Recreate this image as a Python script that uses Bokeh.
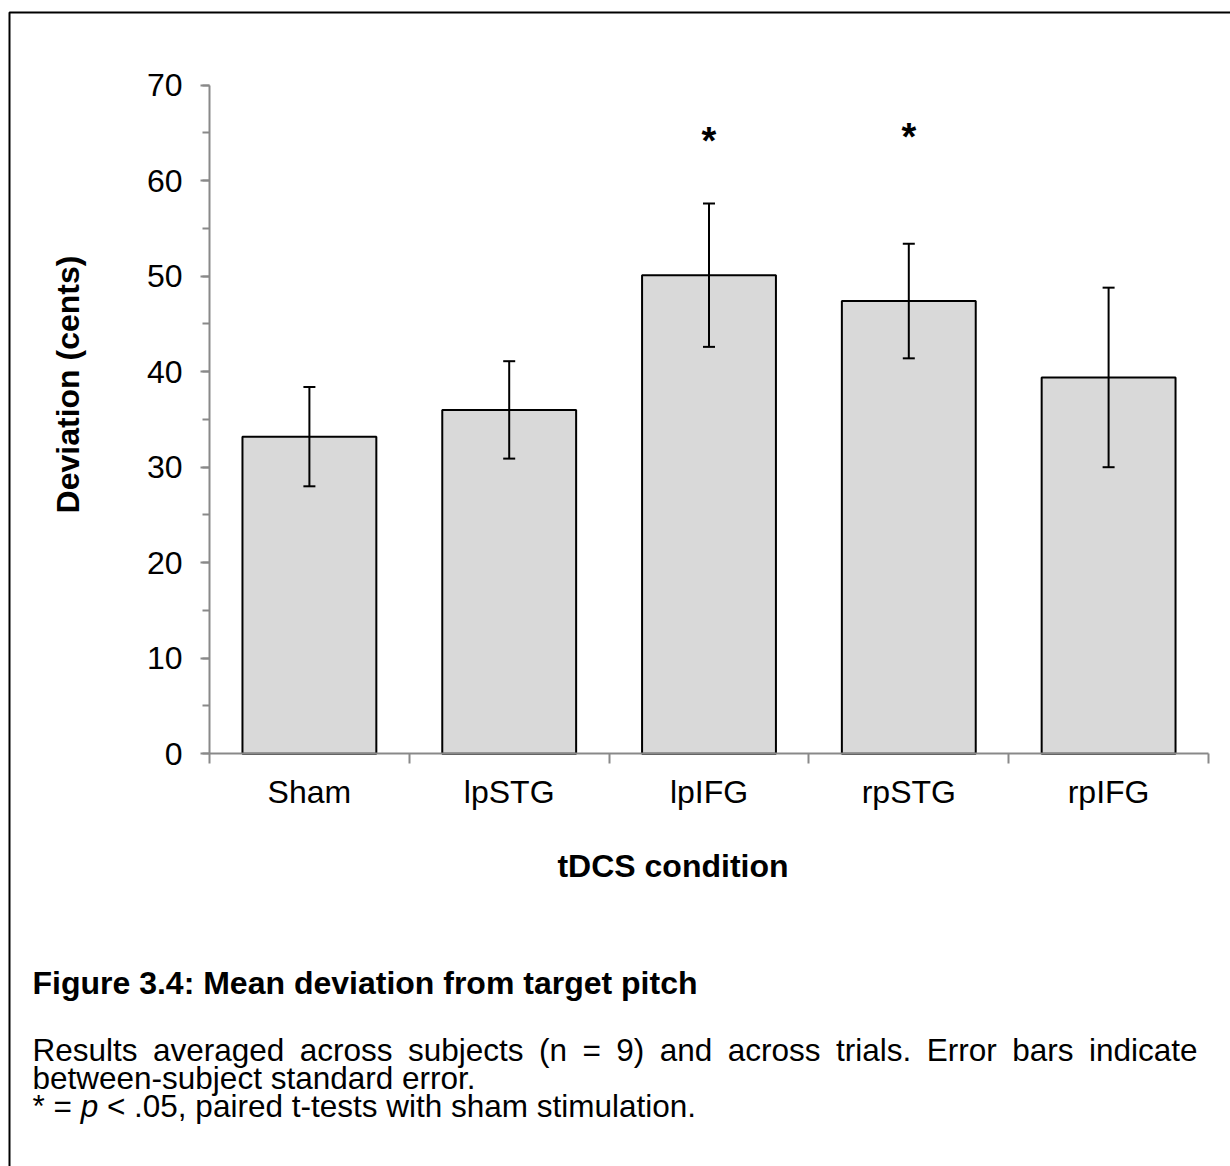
import math
from bokeh.plotting import figure
from bokeh.models import (Range1d, FixedTicker, SingleIntervalTicker, ColumnDataSource,
                          Whisker, TeeHead, Label, BoxAnnotation)
from bokeh.core.properties import value
from bokeh.embed import file_html
from bokeh.resources import INLINE

# ---------------- data ----------------
categories = ["Sham", "lpSTG", "lpIFG", "rpSTG", "rpIFG"]
means = [33.2, 36.0, 50.1, 47.4, 39.4]
sem = [5.2, 5.1, 7.5, 6.0, 9.4]
significant = [False, False, True, True, False]
y_max = 70

x_title = "tDCS condition"
y_title = "Deviation (cents)"
caption_title = "Figure 3.4: Mean deviation from target pitch"
caption_line1 = "Results averaged across subjects (n = 9) and across trials. Error bars indicate"
caption_line2 = "between-subject standard error."
caption_line3 = ["* =", "p", "< .05, paired t-tests with sham stimulation."]

# ---------------- layout (pixels) ----------------
W, H = 1230, 1166
PLOT_L, PLOT_R, PLOT_T, PLOT_B = 209.0, 1208.0, 84.7, 753.2
FONT = "Liberation Sans"
AXIS_GREY = "#898989"

n = len(categories)
xs = (PLOT_R - PLOT_L) / n
ys = (PLOT_B - PLOT_T) / y_max
x_range = Range1d(-PLOT_L / xs, n + (W - PLOT_R) / xs)
y_range = Range1d(-(H - PLOT_B) / ys, y_max + PLOT_T / ys)

centers = [i + 0.5 for i in range(n)]
bounds = list(range(n + 1))

p = figure(width=W, height=H, x_range=x_range, y_range=y_range,
           output_backend="svg", toolbar_location=None,
           min_border_left=0, min_border_right=0, min_border_top=0, min_border_bottom=0)
p.outline_line_color = None
p.xgrid.visible = False
p.ygrid.visible = False
p.background_fill_color = "white"
p.border_fill_color = "white"

src = ColumnDataSource(dict(
    x=centers, top=means,
    upper=[m + s for m, s in zip(means, sem)],
    lower=[m - s for m, s in zip(means, sem)],
))

p.vbar(x="x", top="top", bottom=0, width=0.67, source=src,
       fill_color="#D9D9D9", line_color="black", line_width=2)

wh = Whisker(source=src, base="x", upper="upper", lower="lower",
             line_color="black", line_width=2, level="annotation",
             upper_head=TeeHead(size=12, line_width=2, line_color="black"),
             lower_head=TeeHead(size=12, line_width=2, line_color="black"))
p.add_layout(wh)

star_levels = [64.2, 64.6]
star_x = [c for c, s in zip(centers, significant) if s]
p.text(x=star_x, y=star_levels, text=["*"] * len(star_x),
       text_font=value(FONT), text_font_style="bold", text_font_size="38px",
       text_align="center", text_baseline="alphabetic", text_color="black")

# y axis (fixed at x = 0 so the frame can span the whole canvas)
ya = p.yaxis[0]
ya.fixed_location = 0
ya.bounds = (0, y_max)
ya.ticker = SingleIntervalTicker(interval=10, num_minor_ticks=2)
ya.axis_line_color = AXIS_GREY
ya.axis_line_width = 2
ya.major_tick_line_color = AXIS_GREY
ya.major_tick_line_width = 2
ya.minor_tick_line_color = AXIS_GREY
ya.minor_tick_line_width = 2
ya.major_tick_in = 0
ya.major_tick_out = 9
ya.minor_tick_in = 0
ya.minor_tick_out = 7
ya.major_label_standoff = 18
ya.major_label_text_font = FONT
ya.major_label_text_font_size = "32px"
ya.major_label_text_color = "black"

# x axis (fixed at y = 0)
xa = p.xaxis[0]
xa.fixed_location = 0
xa.bounds = (0, n)
xa.ticker = FixedTicker(ticks=centers, minor_ticks=bounds)
xa.major_label_overrides = {c: name for c, name in zip(centers, categories)}
xa.axis_line_color = AXIS_GREY
xa.axis_line_width = 2
xa.major_tick_in = 0
xa.major_tick_out = 0
xa.major_tick_line_color = None
xa.minor_tick_in = 0
xa.minor_tick_out = 10
xa.minor_tick_line_color = AXIS_GREY
xa.minor_tick_line_width = 2
xa.major_label_standoff = 10
xa.major_label_text_font = FONT
xa.major_label_text_font_size = "32px"
xa.major_label_text_color = "black"


def canvas_label(x, y, text, size="32px", style="normal", align="left", angle=0.0):
    p.add_layout(Label(x=x, y=y, x_units="canvas", y_units="canvas", text=text,
                       angle=angle, text_align=align, text_baseline="middle",
                       text_font=FONT, text_font_style=style, text_font_size=size,
                       text_color="black"))


# axis titles
canvas_label(67, 384, y_title, style="bold", align="center", angle=math.pi / 2)
canvas_label(672.5, 865, x_title, style="bold", align="center")

# border of the figure box
p.add_layout(BoxAnnotation(left=9, top=12, right=W + 20, bottom=H + 20,
                           left_units="canvas", right_units="canvas",
                           top_units="canvas", bottom_units="canvas",
                           fill_alpha=0, line_color="black", line_alpha=1.0, line_width=2))

# caption (Arial / Liberation Sans advance widths, per 1000 em)
ARIAL = {' ': 278, 'R': 722, 'e': 556, 's': 500, 'u': 556, 'l': 222, 't': 278, 'a': 556,
         'v': 500, 'r': 333, 'g': 556, 'd': 556, 'c': 500, 'o': 556, 'b': 556, 'j': 222,
         '(': 333, 'n': 556, '=': 584, '9': 556, ')': 333, 'i': 222, '.': 278, 'E': 667,
         '*': 389, 'p': 556, '<': 584}


def adv(s, size):
    return sum(ARIAL.get(ch, 556) for ch in s) / 1000.0 * size


CAP = 31.5
CAP_SIZE = f"{CAP}px"
cap_left = 32
cap_right = 1197

canvas_label(cap_left, 982, caption_title, size="32px", style="bold")

# justified first line
words = caption_line1.split(" ")
widths = [adv(w, CAP) for w in words]
gap = (cap_right - cap_left - sum(widths)) / (len(words) - 1)
xpos = cap_left
for w, wd in zip(words, widths):
    canvas_label(xpos, 1049, w, size=CAP_SIZE)
    xpos += wd + gap

canvas_label(cap_left, 1077, caption_line2, size=CAP_SIZE)

x3 = cap_left
canvas_label(x3, 1105, caption_line3[0], size=CAP_SIZE)
x3 += adv(caption_line3[0] + " ", CAP)
canvas_label(x3, 1105, caption_line3[1], size=CAP_SIZE, style="italic")
x3 += adv(caption_line3[1] + " ", CAP)
canvas_label(x3, 1105, caption_line3[2], size=CAP_SIZE)

open("out.html", "w").write(file_html(p, INLINE))
